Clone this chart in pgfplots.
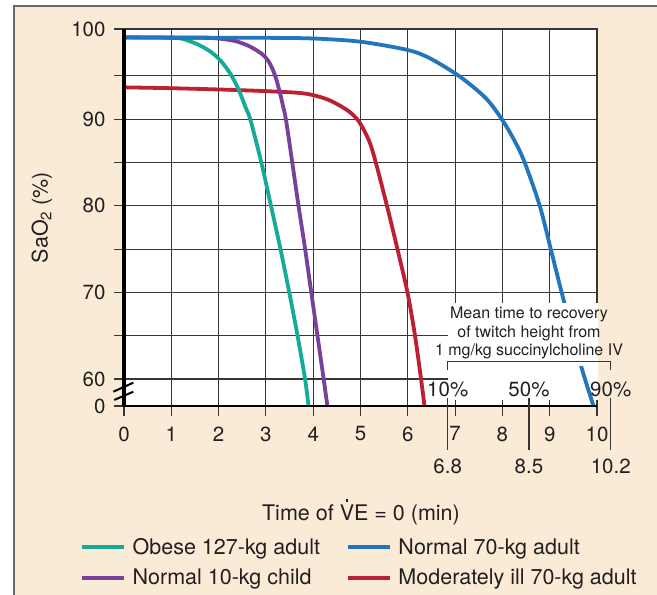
\documentclass[border=0pt]{standalone}
\usepackage{fontspec}
\setmainfont{TeX Gyre Heros}
\usepackage{pgfplots}
\pgfplotsset{compat=1.18}
\definecolor{cream}{RGB}{250,235,215}
\definecolor{framec}{RGB}{105,105,105}
\definecolor{gridc}{RGB}{55,55,55}
\definecolor{txtc}{RGB}{35,31,32}
\definecolor{cteal}{RGB}{22,171,152}
\definecolor{cpurple}{RGB}{122,63,152}
\definecolor{cblue}{RGB}{33,118,189}
\definecolor{cred}{RGB}{188,32,52}
\newcommand{\tickfont}{\fontsize{20.5bp}{24bp}\selectfont}
\newcommand{\labfont}{\fontsize{21.5bp}{25bp}\selectfont}
\newcommand{\Vdot}{\leavevmode\setbox0\hbox{V}\rlap{\hbox to\wd0{\hss\raisebox{0.86em}{\rule{0.12em}{0.12em}}\hss}}V}
\begin{document}
\begin{tikzpicture}
\useasboundingbox (0bp,0bp) rectangle (657bp,595bp);
\fill[cream] (14bp,-10bp) rectangle (670bp,589bp);
\draw[framec, line width=1.6bp] (14bp,-10bp) -- (14bp,589bp) -- (670bp,589bp);
\begin{axis}[
  at={(124bp,189bp)}, anchor=south west,
  scale only axis, width=473bp, height=377bp,
  xmin=0, xmax=10, ymin=56.88, ymax=100.42,
  axis background/.style={fill=white},
  axis line style={draw=none},
  clip=false,
  xtick={0,1,2,3,4,5,6,7,8,9,10},
  xticklabels={0,1,2,3,4,5,6,7,8,9,10},
  ytick={56.88,60,65,70,75,80,85,90,95,100.42},
  yticklabels={0,60,,70,,80,,90,,100},
  tick pos=left,
  tick align=outside,
  major tick length=10bp,
  tick style={gridc, line width=1.1bp},
  grid=major,
  major grid style={gridc, line width=1.1bp},
  tick label style={font=\tickfont, text=txtc},
  xticklabel style={yshift=-7bp},
  yticklabel style={xshift=-5bp},
  xlabel={Time of \Vdot E = 0 (min)},
  ylabel={SaO\textsubscript{2} (\%)},
  xlabel style={at={(axis description cs:0.501,-0.2815)}, anchor=center, font=\labfont, text=txtc},
  ylabel style={at={(axis description cs:-0.1734,0.5)}, anchor=center, font=\labfont, text=txtc},
  legend columns=2,
  legend cell align=left,
  legend style={at={(axis description cs:-0.093,-0.345)}, anchor=north west, draw=none, fill=none,
    font=\labfont, text=txtc, inner sep=0pt, row sep=9.5bp,
    /tikz/every odd column/.append style={column sep=4.5bp},
    /tikz/every even column/.append style={column sep=24bp}},
  legend image code/.code={\draw[#1, line width=4bp] (0bp,0bp) -- (42bp,0bp);},
]
% white area below the note: grid lines hidden
\fill[white] (axis cs:6.85,57.58) rectangle (axis cs:10.02,68.78);
\draw[gridc, line width=1.1bp] (axis cs:7,56.88) -- (axis cs:7,57.6);
\draw[gridc, line width=1.1bp] (axis cs:8,56.88) -- (axis cs:8,57.6);
\draw[gridc, line width=1.1bp] (axis cs:9,56.88) -- (axis cs:9,57.6);

% Moderately ill 70-kg adult
\addplot[cred, line width=3.8bp, smooth, tension=0.5, forget plot] coordinates {
(0,93.68) (1.015,93.58) (2.030,93.43) (3.017,93.24) (3.721,93.03) (4.038,92.73) (4.313,92.26)
(4.567,91.56) (4.778,90.81) (4.947,89.88) (5.074,88.73) (5.201,87.23) (5.328,84.91) (5.560,79.98)
(5.782,74.98) (5.994,69.97) (6.152,65.02) (6.279,60.03) (6.353,56.88)};
% Obese 127-kg adult
\addplot[cteal, line width=3.8bp, smooth, tension=0.5, forget plot] coordinates {
(0,99.45) (1.036,99.40) (1.290,99.20) (1.607,98.51) (1.860,97.68) (2.072,96.58) (2.262,95.13)
(2.431,93.33) (2.569,91.37) (2.674,89.91) (2.907,84.91) (3.108,79.98) (3.309,74.98) (3.495,69.97)
(3.668,65.02) (3.827,60.03) (3.901,56.88)};
% Normal 10-kg child
\addplot[cpurple, line width=3.8bp, smooth, tension=0.5, forget plot] coordinates {
(0,99.45) (1.61,99.40) (1.96,99.34) (2.35,99.03) (2.66,98.40) (2.918,97.53) (3.044,96.78) (3.140,95.80)
(3.224,94.53) (3.298,93.03) (3.362,91.52) (3.425,89.91) (3.56,84.91) (3.69,79.98) (3.83,74.98) (3.96,69.97)
(4.09,64.99) (4.22,60.03) (4.30,56.88)};
% Normal 70-kg adult
\addplot[cblue, line width=3.8bp, smooth, tension=0.5, forget plot] coordinates {
(0,99.46) (1.015,99.43) (3.017,99.40) (4.012,99.32) (5.0,98.95) (6.0,97.99) (6.469,97.03)
(7.104,94.91) (7.653,92.41) (7.998,89.91) (8.268,87.40) (8.478,84.91) (8.795,79.90)
(9.027,74.90) (9.254,69.97) (9.461,65.67) (9.677,61.24) (9.926,56.88)};

% note box
\fill[white] (axis cs:6.85,61.5) rectangle (axis cs:10.0,68.78);

% frame
\draw[gridc, line width=1.3bp] (axis cs:0,100.42) -- (axis cs:10,100.42) -- (axis cs:10,68.78);
\draw[black, line width=3bp] (axis cs:0,56.88) -- (axis cs:0,100.42);
\draw[black, line width=2.6bp] (axis cs:-0.03,56.88) -- (axis cs:10,56.88);
% axis break
\draw[black, line width=2bp] (axis cs:-0.226,58.53) -- (axis cs:0.197,59.57);
\draw[black, line width=2bp] (axis cs:-0.206,57.58) -- (axis cs:0.197,58.53);

% succinylcholine note
\node[font=\fontsize{16bp}{18.3bp}\selectfont, align=center, text=txtc] at (axis cs:8.562,65.3)
  {Mean time to recovery\\of twitch height from\\1 mg/kg succinylcholine IV};
\draw[gridc, line width=1.2bp] (axis cs:6.844,61.04) -- (axis cs:6.844,62.0) -- (axis cs:10.29,62.0) -- (axis cs:10.29,61.04);
\node[font=\tickfont, text=txtc] at (axis cs:6.844,58.85) {10\%};
\node[font=\tickfont, text=txtc] at (axis cs:8.562,58.85) {50\%};
\node[font=\tickfont, text=txtc] at (axis cs:10.29,58.85) {90\%};
\draw[gridc, line width=1.2bp] (axis cs:6.844,57.8) -- (axis cs:6.844,51.8);
\draw[gridc, line width=1.2bp] (axis cs:8.562,57.8) -- (axis cs:8.562,51.8);
\draw[gridc, line width=1.2bp] (axis cs:10.29,57.8) -- (axis cs:10.29,51.8);
\node[font=\tickfont, text=txtc] at (axis cs:6.844,49.87) {6.8};
\node[font=\tickfont, text=txtc] at (axis cs:8.562,49.87) {8.5};
\node[font=\tickfont, text=txtc] at (axis cs:10.29,49.87) {10.2};

% legend (row-wise: teal, blue / purple, red)
\addlegendimage{cteal}
\addlegendentry{Obese 127-kg adult}
\addlegendimage{cblue}
\addlegendentry{Normal 70-kg adult}
\addlegendimage{cpurple}
\addlegendentry{Normal 10-kg child}
\addlegendimage{cred}
\addlegendentry{Moderately ill 70-kg adult}
\end{axis}
\end{tikzpicture}
\end{document}
